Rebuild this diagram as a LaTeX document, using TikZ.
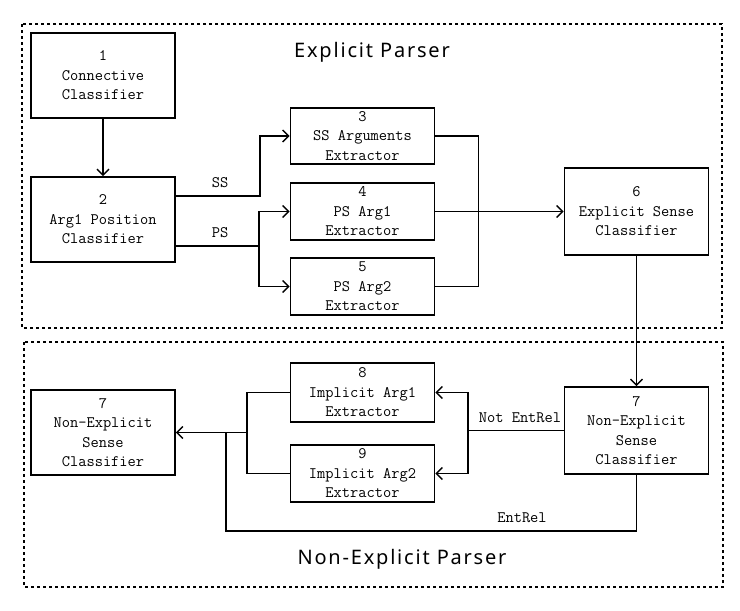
\documentclass[tikz,border=0pt]{standalone}
\usepackage{fontspec}
\newfontfamily\titlefont[LetterSpace=9]{Noto Sans}
\usetikzlibrary{arrows.meta,calc}
\newcommand\boxfont{\ttfamily\fontsize{16}{19.5}\selectfont}
\begin{document}
\begin{tikzpicture}[x=1pt,y=-1pt,
  box/.style={draw,line width=1.8pt,minimum width=144pt,inner sep=0pt,align=center,font=\boxfont},
  conn/.style={line width=1.8pt},
  arr/.style={conn,-{Straight Barb[length=6pt,width=12pt,line width=1.4pt]}},
  frame/.style={line width=1.5pt,dash pattern=on 3pt off 3pt},
  lbl/.style={font=\boxfont,inner sep=0pt},
  ttl/.style={font=\titlefont\fontsize{20}{24}\selectfont,inner sep=0pt}]
\useasboundingbox (0,0) rectangle (740,611);
\draw[frame] (22,24) rectangle (722,328);
\draw[frame] (24,342) rectangle (723,587);
\node[ttl] (t1) at (372,52) {Explicit Parser};
\node[ttl] (t2) at (402,559) {Non-Explicit Parser};

\node[box,minimum height=85pt] (n1) at (103,75.5) {1\\Connective\\Classifier};
\node[box,minimum height=85pt] (n2) at (103,219.5) {2\\Arg1 Position\\Classifier};
\node[box,minimum height=56pt] (n3) at (362.5,136) {3\\SS Arguments\\Extractor};
\node[box,minimum height=57pt] (n4) at (362.5,211.5) {4\\PS Arg1\\Extractor};
\node[box,minimum height=57pt] (n5) at (362.5,286.5) {5\\PS Arg2\\Extractor};
\node[box,minimum height=87pt] (n6) at (636.5,211.5) {6\\Explicit Sense\\Classifier};
\node[box,minimum height=87pt] (n7r) at (636.5,430.5) {7\\Non-Explicit\\Sense\\Classifier};
\node[box,minimum height=59pt] (n8) at (362.5,392.5) {8\\Implicit Arg1\\Extractor};
\node[box,minimum height=57pt] (n9) at (362.5,473.5) {9\\Implicit Arg2\\Extractor};
\node[box,minimum height=85pt] (n7l) at (103,432.5) {7\\Non-Explicit\\Sense\\Classifier};

\draw[arr] (n1.south) -- (n2.north);
\draw[arr] ([yshift=23.5pt]n2.east) -- ++(84,0) |- (n3.west);
\draw[conn] ([yshift=-26.5pt]n2.east) -- ++(83,0) coordinate (psj);
\draw[arr] (psj) |- (n4.west);
\draw[arr] (psj) |- (n5.west);
\node[lbl] (lss) at (220,183) {SS};
\node[lbl] (lps) at (220,233) {PS};

\draw[conn] (n3.east) -- ++(43,0) |- (n5.east);
\draw[arr] (n4.east) -- (n6.west);
\draw[arr] (n6.south) -- (n7r.north);

\draw[conn] (n7r.west) -- ++(-95.5,0) coordinate (nej);
\draw[arr] (nej) |- (n8.east);
\draw[arr] (nej) |- (n9.east);
\node[lbl] (lne) at (520,418) {Not EntRel};

\draw[conn] (n8.west) -- ++(-43,0) |- (n9.west);
\coordinate (mj) at (247,432.5);
\coordinate (ej) at (226,432.5);
\draw[arr] (mj) -- (n7l.east);
\draw[conn] (n7r.south) -- ++(0,56) -| (ej);
\node[lbl] (ler) at (522,518) {EntRel};
\end{tikzpicture}
\end{document}
